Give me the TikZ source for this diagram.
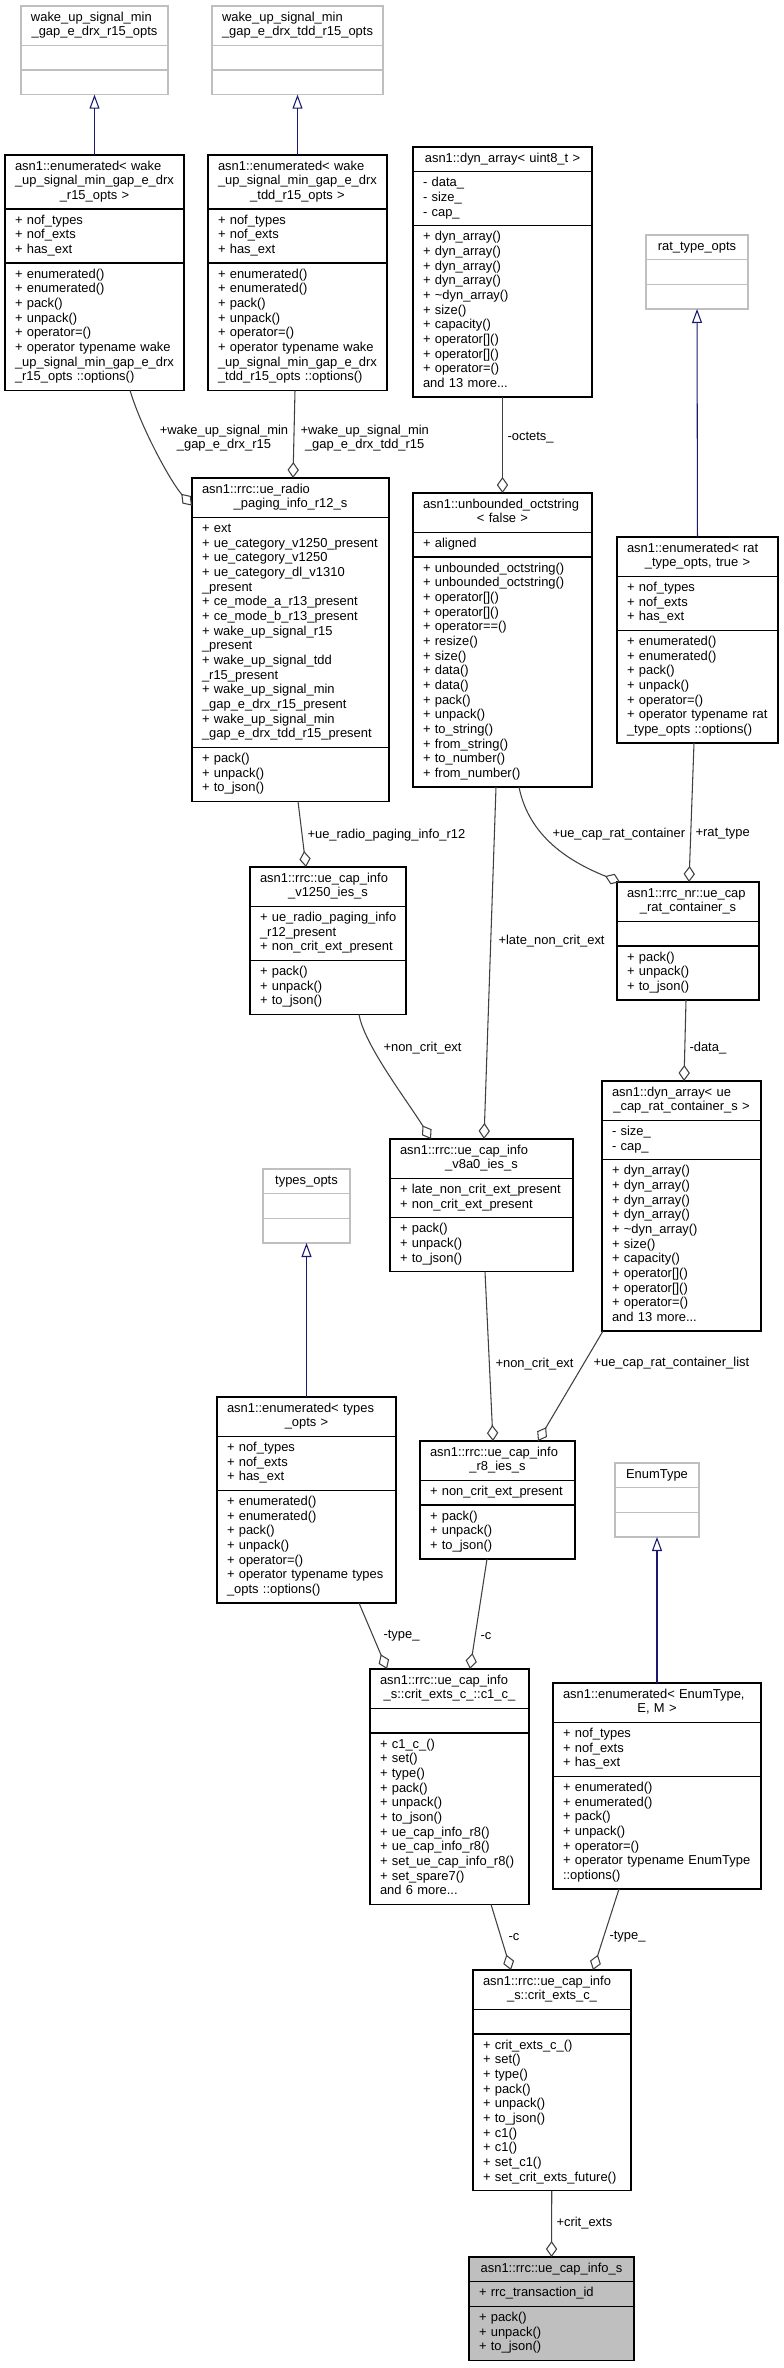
\documentclass[tikz,border=0pt]{standalone}
\usepackage{fontspec}
\setmainfont{Liberation Sans}
\usetikzlibrary{positioning,calc,arrows.meta}

\definecolor{grey75}{HTML}{BFBFBF}
\definecolor{grey25}{HTML}{404040}
\definecolor{navy}{HTML}{191970}

% one class: title, attributes and methods stacked
\newcommand{\umlclass}[7][]{%
  \pgfmathsetlengthmacro{\clsw}{(#4-20)*0.75}%
  \node[cls,#1,text width=\clsw,anchor=north west] (#2) at #3 {#5};
  \node[cls,#1,text width=\clsw,below=0pt of #2] (#2-a) {#6};
  \node[cls,#1,text width=\clsw,below=0pt of #2-a] (#2-m) {#7};
}
\newcommand{\ctrline}[1]{\leavevmode\null\hfill#1\hfill\null}

\begin{document}
\begin{tikzpicture}[x=0.75pt,y=-0.75pt,
  font=\fontsize{9.7}{11}\selectfont,
  cls/.style={draw=black,line width=0.8pt,fill=white,outer sep=0pt,
    inner xsep=7.5pt,inner ysep=3.75pt,align=left,
    execute at begin node={\rightskip=0pt plus 1fil minus 20pt\relax\hyphenpenalty=10000\strut},
    execute at end node={\strut}},
  nodoc/.style={draw=grey75},
  hl/.style={fill=grey75},
  agg/.style={draw=grey25,line width=0.8pt,-{Diamond[open,length=12pt,width=8.5pt]}},
  inh/.style={draw=navy,line width=0.8pt,-{Triangle[open,length=10.5pt,width=7.5pt]}},
  lbl/.style={inner sep=0pt,align=center}]
\useasboundingbox (0,0) rectangle (783,2368);

% classes
\umlclass[nodoc]{wusOpts}{(21,6)}{147}{wake\_up\_signal\_min\\\ctrline{\_gap\_e\_drx\_r15\_opts}}{}{}
\umlclass[nodoc]{wusTddOpts}{(212,6)}{171}{wake\_up\_signal\_min\\\ctrline{\_gap\_e\_drx\_tdd\_r15\_opts}}{}{}
\umlclass{enumWus}{(5,155)}{179}{asn1::enumerated< wake\\\_up\_signal\_min\_gap\_e\_drx\\\ctrline{\_r15\_opts >}}
  {+ nof\_types\\+ nof\_exts\\+ has\_ext}
  {+ enumerated()\\+ enumerated()\\+ pack()\\+ unpack()\\+ operator=()\\+ operator typename wake\\\_up\_signal\_min\_gap\_e\_drx\\\_r15\_opts ::options()}
\umlclass{enumWusTdd}{(208,155)}{179}{asn1::enumerated< wake\\\_up\_signal\_min\_gap\_e\_drx\\\ctrline{\_tdd\_r15\_opts >}}
  {+ nof\_types\\+ nof\_exts\\+ has\_ext}
  {+ enumerated()\\+ enumerated()\\+ pack()\\+ unpack()\\+ operator=()\\+ operator typename wake\\\_up\_signal\_min\_gap\_e\_drx\\\_tdd\_r15\_opts ::options()}
\umlclass{dynU8}{(413,147)}{179}{\ctrline{asn1::dyn\_array< uint8\_t >}}
  {- data\_\\- size\_\\- cap\_}
  {+ dyn\_array()\\+ dyn\_array()\\+ dyn\_array()\\+ dyn\_array()\\+ \textasciitilde dyn\_array()\\+ size()\\+ capacity()\\+ operator[]()\\+ operator[]()\\+ operator=()\\and 13 more...}
\umlclass[nodoc]{ratOpts}{(646,235)}{102}{\ctrline{rat\_type\_opts}}{}{}
\umlclass{octStr}{(413,493)}{179}{asn1::unbounded\_octstring\\\ctrline{< false >}}
  {+ aligned}
  {+ unbounded\_octstring()\\+ unbounded\_octstring()\\+ operator[]()\\+ operator[]()\\+ operator==()\\+ resize()\\+ size()\\+ data()\\+ data()\\+ pack()\\+ unpack()\\+ to\_string()\\+ from\_string()\\+ to\_number()\\+ from\_number()}
\umlclass{enumRat}{(617,537)}{161}{asn1::enumerated< rat\\\ctrline{\_type\_opts, true >}}
  {+ nof\_types\\+ nof\_exts\\+ has\_ext}
  {+ enumerated()\\+ enumerated()\\+ pack()\\+ unpack()\\+ operator=()\\+ operator typename rat\\\_type\_opts ::options()}
\umlclass{radioPag}{(192,478)}{197}{asn1::rrc::ue\_radio\\\ctrline{\_paging\_info\_r12\_s}}
  {+ ext\\+ ue\_category\_v1250\_present\\+ ue\_category\_v1250\\+ ue\_category\_dl\_v1310\\\_present\\+ ce\_mode\_a\_r13\_present\\+ ce\_mode\_b\_r13\_present\\+ wake\_up\_signal\_r15\\\_present\\+ wake\_up\_signal\_tdd\\\_r15\_present\\+ wake\_up\_signal\_min\\\_gap\_e\_drx\_r15\_present\\+ wake\_up\_signal\_min\\\_gap\_e\_drx\_tdd\_r15\_present}
  {+ pack()\\+ unpack()\\+ to\_json()}
\umlclass{ratCont}{(617,882)}{142}{asn1::rrc\_nr::ue\_cap\\\ctrline{\_rat\_container\_s}}
  {}
  {+ pack()\\+ unpack()\\+ to\_json()}
\umlclass{v1250}{(250,867)}{156}{asn1::rrc::ue\_cap\_info\\\ctrline{\_v1250\_ies\_s}}
  {+ ue\_radio\_paging\_info\\\_r12\_present\\+ non\_crit\_ext\_present}
  {+ pack()\\+ unpack()\\+ to\_json()}
\umlclass{v8a0}{(390,1139)}{183}{asn1::rrc::ue\_cap\_info\\\ctrline{\_v8a0\_ies\_s}}
  {+ late\_non\_crit\_ext\_present\\+ non\_crit\_ext\_present}
  {+ pack()\\+ unpack()\\+ to\_json()}
\umlclass{dynRat}{(602,1081)}{159}{asn1::dyn\_array< ue\\\ctrline{\_cap\_rat\_container\_s >}}
  {- size\_\\- cap\_}
  {+ dyn\_array()\\+ dyn\_array()\\+ dyn\_array()\\+ dyn\_array()\\+ \textasciitilde dyn\_array()\\+ size()\\+ capacity()\\+ operator[]()\\+ operator[]()\\+ operator=()\\and 13 more...}
\umlclass[nodoc]{typesOpts}{(263,1169)}{87}{\ctrline{types\_opts}}{}{}
\umlclass{enumTypes}{(217,1397)}{179}{asn1::enumerated< types\\\ctrline{\_opts >}}
  {+ nof\_types\\+ nof\_exts\\+ has\_ext}
  {+ enumerated()\\+ enumerated()\\+ pack()\\+ unpack()\\+ operator=()\\+ operator typename types\\\_opts ::options()}
\umlclass{r8}{(420,1441)}{155}{asn1::rrc::ue\_cap\_info\\\ctrline{\_r8\_ies\_s}}
  {+ non\_crit\_ext\_present}
  {+ pack()\\+ unpack()\\+ to\_json()}
\umlclass{c1}{(370,1669)}{159}{asn1::rrc::ue\_cap\_info\\\ctrline{\_s::crit\_exts\_c\_::c1\_c\_}}
  {}
  {+ c1\_c\_()\\+ set()\\+ type()\\+ pack()\\+ unpack()\\+ to\_json()\\+ ue\_cap\_info\_r8()\\+ ue\_cap\_info\_r8()\\+ set\_ue\_cap\_info\_r8()\\+ set\_spare7()\\and 6 more...}
\umlclass[nodoc]{enumType}{(615,1463)}{84}{\ctrline{EnumType}}{}{}
\umlclass{enumGen}{(553,1683)}{208}{asn1::enumerated< EnumType,\\\ctrline{E, M >}}
  {+ nof\_types\\+ nof\_exts\\+ has\_ext}
  {+ enumerated()\\+ enumerated()\\+ pack()\\+ unpack()\\+ operator=()\\+ operator typename EnumType\\::options()}
\umlclass{critExts}{(473,1970)}{158}{asn1::rrc::ue\_cap\_info\\\ctrline{\_s::crit\_exts\_c\_}}
  {}
  {+ crit\_exts\_c\_()\\+ set()\\+ type()\\+ pack()\\+ unpack()\\+ to\_json()\\+ c1()\\+ c1()\\+ set\_c1()\\+ set\_crit\_exts\_future()}
\umlclass[hl]{capInfo}{(469,2257)}{165}{\ctrline{asn1::rrc::ue\_cap\_info\_s}}
  {+ rrc\_transaction\_id}
  {+ pack()\\+ unpack()\\+ to\_json()}

% inheritance
\draw[inh] (enumWus) -- (wusOpts-m);
\draw[inh] (enumWusTdd) -- (wusTddOpts-m);
\draw[inh] (enumRat) -- (ratOpts-m);
\draw[inh] (enumTypes) -- (typesOpts-m);
\draw[inh] (enumGen) -- (enumType-m);

% members
\draw[agg] (130,0 |- enumWus-m.south) .. controls +(12,40) and +(-20,-22) .. ($(radioPag.west)+(0,8)$)
  node[lbl] (lWus) at (224,438) {+wake\_up\_signal\_min\\\_gap\_e\_drx\_r15};
\draw[agg] (295,0 |- enumWusTdd-m.south) -- (293,0 |- radioPag.north)
  node[lbl,anchor=west] (lWusTdd) at (300,438) {+wake\_up\_signal\_min\\\_gap\_e\_drx\_tdd\_r15};
\draw[agg] (dynU8-m) -- (octStr) node[lbl,anchor=west] (lOctets) at (507,438) {-octets\_};
\draw[agg] (519,0 |- octStr-m.south) .. controls +(10,50) and +(-50,-20) .. ($(ratCont.north west)+(3,0)$)
  node[lbl,anchor=west] (lRatCont) at (552,834) {+ue\_cap\_rat\_container};
\draw[agg] (694,0 |- enumRat-m.south) -- (689,0 |- ratCont.north)
  node[lbl,anchor=west] (lRatType) at (695,834) {+rat\_type};
\draw[agg] (496,0 |- octStr-m.south) -- (484,0 |- v8a0.north)
  node[lbl,anchor=west] (lLate) at (498,941) {+late\_non\_crit\_ext};
\draw[agg] (298,0 |- radioPag-m.south) -- (306,0 |- v1250.north)
  node[lbl,anchor=west] (lRadio) at (307,835) {+ue\_radio\_paging\_info\_r12};
\draw[agg] (359,0 |- v1250-m.south) .. controls +(5,30) and +(-25,-40) .. (431,0 |- v8a0.north)
  node[lbl,anchor=west] (lNce1) at (383,1048) {+non\_crit\_ext};
\draw[agg] (686,0 |- ratCont-m.south) -- (684,0 |- dynRat.north)
  node[lbl,anchor=west] (lData) at (689,1048) {-data\_};
\draw[agg] (485,0 |- v8a0-m.south) -- (493,0 |- r8.north)
  node[lbl,anchor=west] (lNce2) at (495,1364) {+non\_crit\_ext};
\draw[agg] ($(dynRat-m.south west)+(1,0)$) -- (538,0 |- r8.north)
  node[lbl,anchor=west] (lRatList) at (593,1363) {+ue\_cap\_rat\_container\_list};
\draw[agg] (359,0 |- enumTypes-m.south) -- (387,0 |- c1.north)
  node[lbl,anchor=west] (lType1) at (383,1636) {-type\_};
\draw[agg] (487,0 |- r8-m.south) -- (470,0 |- c1.north)
  node[lbl,anchor=west] (lC1) at (480,1636) {-c};
\draw[agg] (491,0 |- c1-m.south) -- (511,0 |- critExts.north)
  node[lbl,anchor=west] (lC2) at (508,1937) {-c};
\draw[agg] (619,0 |- enumGen-m.south) -- (593,0 |- critExts.north)
  node[lbl,anchor=west] (lType2) at (609,1937) {-type\_};
\draw[agg] (critExts-m) -- (capInfo)
  node[lbl,anchor=west] (lCrit) at (556,2223) {+crit\_exts};
\end{tikzpicture}
\end{document}
